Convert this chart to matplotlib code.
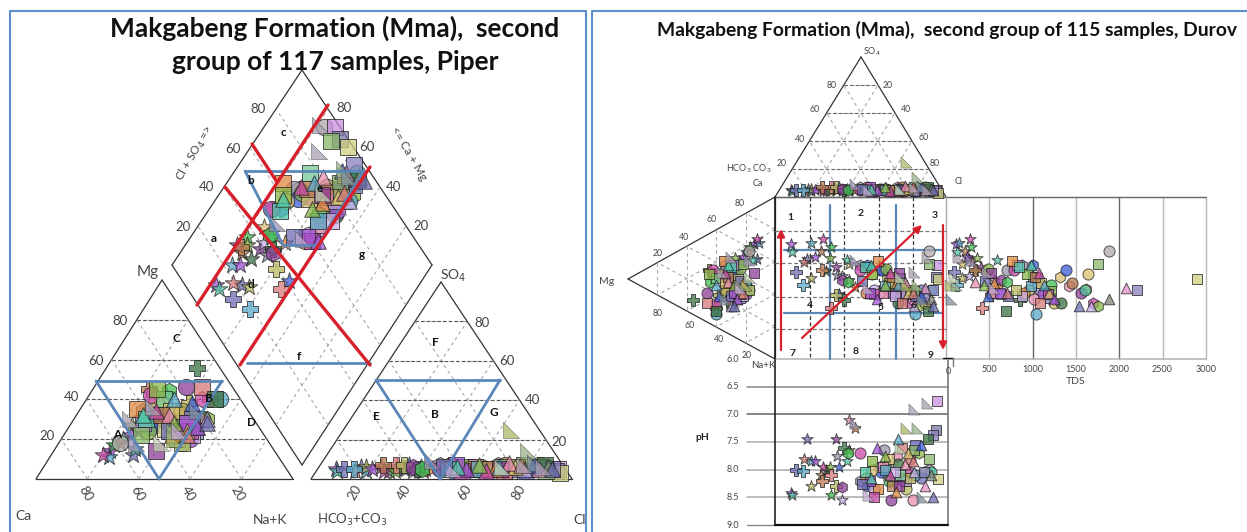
import matplotlib
matplotlib.use("Agg")
import matplotlib.pyplot as plt
import numpy as np

plt.rcParams['font.family'] = ['Lato', 'DejaVu Sans']

# ---- sample data: percent meq cations / anions, TDS (mg/l), pH ----
star_cl  = [7, 8, 16, 19, 15, 18, 24, 28, 33, 30, 34, 34, 37, 41, 41, 44, 26, 30, 21, 39]
star_so4 = [5, 4, 6, 4, 4, 6, 6, 4, 5, 6, 5, 7, 4, 4, 5, 5, 4, 4, 5, 6]
star_nak = [22, 24, 32, 23, 28, 35, 24, 29, 30, 22, 34, 49, 30, 26, 30, 38, 20, 24, 26, 31]
star_mg  = [14, 20, 12, 11, 24, 30, 18, 33, 26, 17, 28, 22, 37, 30, 42, 35, 12, 27, 22, 15]
star_tds = [110, 130, 260, 150, 300, 180, 220, 340, 400, 290, 460, 520, 260, 190, 560, 610, 280, 360, 240, 590]
star_ph  = [8.42, 8.45, 7.45, 7.85, 7.8, 8.3, 8.1, 8.0, 7.45, 8.45, 7.75, 7.95, 8.55, 7.65, 7.1, 7.25, 7.95, 7.95, 7.85, 7.85]

plus_cl  = [10, 14, 29, 32, 24, 38]
plus_so4 = [5, 5, 7, 7, 7, 5]
plus_nak = [32, 41, 48, 41, 22, 35]
plus_mg  = [28, 26, 40, 38, 45, 56]
plus_tds = [90, 130, 420, 520, 330, 850]
plus_ph  = [8.0, 8.03, 8.1, 8.3, 8.2, 7.6]

hex_cl   = [36, 40, 46, 52, 58, 63, 68, 72, 76, 82]
hex_so4  = [6, 5, 7, 4, 6, 5, 7, 4, 6, 5]
hex_nak  = [36, 30, 25, 28, 47, 30, 44, 40, 45, 52]
hex_mg   = [30, 44, 34, 28, 26, 38, 22, 33, 40, 30]
hex_tds  = [640, 700, 880, 1010, 1180, 1320, 1420, 1620, 1700, 1750]
hex_ph   = [8.32, 7.7, 8.2, 8.3, 7.95, 8.1, 7.75, 8.15, 8.05, 7.7]

circ_cl  = [87, 84, 83, 80, 76, 74, 71, 69, 66, 64, 61, 59, 56, 54, 78, 50, 47, 62, 73, 89]
circ_so4 = [6, 7, 5, 4, 6, 5, 7, 6, 4, 5, 5, 6, 4, 6, 5, 7, 5, 6, 4, 5]
circ_nak = [24, 50, 46, 52, 46, 40, 41, 50, 36, 44, 28, 32, 45, 28, 48, 45, 24, 32, 50, 48]
circ_mg  = [18, 30, 22, 40, 26, 34, 24, 30, 46, 20, 34, 26, 24, 38, 30, 28, 42, 24, 20, 18]
circ_tds = [1880, 1250, 1100, 1040, 1180, 960, 1460, 1330, 1560, 1210, 700, 1390, 1090, 1640, 1020, 900, 780, 480, 1120, 1610]
circ_ph  = [8.0, 8.05, 8.15, 8.1, 7.8, 8.35, 8.15, 7.9, 8.55, 8.2, 7.65, 8.05, 8.35, 8.0, 8.55, 8.15, 7.7, 7.95, 8.2, 8.05]

sq_cl    = [92, 92, 94, 90, 88, 84, 80, 78, 74, 70, 68, 64, 60, 58, 56, 54, 52, 50, 48, 62, 72, 76, 66, 86, 70]
sq_so4   = [5, 4, 3, 5, 4, 6, 4, 7, 5, 6, 4, 5, 6, 5, 4, 6, 7, 5, 6, 5, 4, 6, 5, 7, 5]
sq_nak   = [28, 33, 38, 45, 30, 50, 46, 44, 47, 30, 50, 36, 46, 22, 48, 25, 45, 28, 40, 45, 42, 48, 33, 50, 40]
sq_mg    = [28, 32, 25, 25, 22, 24, 30, 28, 25, 40, 22, 34, 26, 35, 24, 45, 28, 30, 24, 20, 46, 18, 32, 40, 14]
sq_tds   = [820, 1010, 2900, 2200, 1760, 1200, 720, 1210, 640, 1050, 880, 1100, 530, 760, 1180, 930, 620, 840, 450, 980, 1090, 810, 1030, 690, 520]
sq_ph    = [6.76, 7.28, 8.17, 7.38, 7.8, 8.05, 7.55, 7.65, 8.2, 8.1, 8.05, 7.8, 7.95, 8.35, 8.5, 7.85, 8.2, 8.05, 8.25, 8.0, 7.6, 8.15, 8.3, 7.45, 8.3]
sq_colors = ['#c890e0', '#7878a8', '#d0d080', '#8880c0', '#88b868', '#8888c8', '#6868c0', '#88b060', '#b8a0d8', '#78c898']

tri_cl   = [88, 85, 82, 79, 75, 72, 68, 65, 61, 57, 53, 90, 69, 77]
tri_so4  = [6, 5, 7, 5, 6, 8, 5, 4, 7, 5, 6, 5, 6, 7]
tri_nak  = [50, 44, 42, 52, 47, 36, 42, 30, 40, 50, 26, 53, 34, 48]
tri_mg   = [26, 24, 38, 30, 24, 32, 22, 34, 28, 26, 32, 28, 40, 22]
tri_tds  = [1880, 2080, 480, 1680, 1190, 330, 560, 1070, 440, 1250, 980, 1540, 1130, 710]
tri_ph   = [8.1, 8.3, 7.55, 8.05, 7.7, 7.9, 8.4, 8.1, 7.75, 7.6, 8.15, 8.5, 7.45, 7.85]
tri_colors = ['#808878', '#e890c8']

rtri_cl  = [64, 76, 42, 82, 86, 78, 52, 70]
rtri_so4 = [25, 14, 9, 8, 6, 7, 5, 6]
rtri_nak = [44, 42, 30, 46, 22, 28, 44, 40]
rtri_mg  = [20, 24, 18, 34, 30, 36, 24, 18]
rtri_tds = [50, 110, 290, 60, 140, 470, 560, 90]
rtri_ph  = [7.25, 7.25, 7.15, 8.5, 6.8, 6.9, 8.45, 7.6]
rtri_colors = ['#a8b868', '#98b088', '#9890b0', '#8090a0', '#a8a0b0', '#a8a0b0', '#c0a8d0', '#c0d0b0']

circ_colors = ['#b0a8a8', '#d8c060']

groups = [
    ('*', 1.12, star_cl, star_so4, star_nak, star_mg, star_tds, star_ph, []),
    ('P', 1.05, plus_cl, plus_so4, plus_nak, plus_mg, plus_tds, plus_ph, []),
    ('h', 1.05, hex_cl, hex_so4, hex_nak, hex_mg, hex_tds, hex_ph, []),
    ('o', 1.05, circ_cl, circ_so4, circ_nak, circ_mg, circ_tds, circ_ph, circ_colors),
    ('s', 1.0, sq_cl, sq_so4, sq_nak, sq_mg, sq_tds, sq_ph, sq_colors),
    ('^', 1.0, tri_cl, tri_so4, tri_nak, tri_mg, tri_tds, tri_ph, tri_colors),
    ('$\u25e3$', 1.0, rtri_cl, rtri_so4, rtri_nak, rtri_mg, rtri_tds, rtri_ph, rtri_colors),
]
palette = ['#a050d8', '#40c050', '#e890b0', '#b8b860', '#9a94ac', '#50c8a8', '#b87850',
           '#e08840', '#6c6cb4', '#3c5cd8', '#c848a8', '#3a7040', '#c8b0e8', '#58a8c8',
           '#8c3c98', '#88b848', '#d87878', '#d8c070']

SO4_LAB = 'SO$_4$'
ticks = [20, 40, 60, 80]

fig = plt.figure(figsize=(12.47, 5.32), dpi=100)
ax = fig.add_axes([0, 0, 1, 1])
ax.set_xlim(0, 1247)
ax.set_ylim(532, 0)
ax.axis('off')

EDGE = '#333333'
GRID = '#a8a8a8'


def seg(p, q, color=EDGE, lw=0.9, ls='-', z=2):
    ax.plot([p[0], q[0]], [p[1], q[1]], color=color, lw=lw, ls=ls, zorder=z, solid_capstyle='round')


def bary(A, B, C, a, b, c):
    return (np.asarray(A) * a + np.asarray(B) * b + np.asarray(C) * c) / 100.0


def tri_frame(A, B, C, lw=0.9):
    seg(A, B, lw=lw); seg(B, C, lw=lw); seg(C, A, lw=lw)
    for t in ticks:
        seg(bary(A, B, C, 100 - t, 0, t), bary(A, B, C, 0, 100 - t, t), GRID, .8, (0, (3, 3)))
        seg(bary(A, B, C, t, 100 - t, 0), bary(A, B, C, t, 0, 100 - t), GRID, .8, (0, (3, 3)))
        seg(bary(A, B, C, 100 - t, t, 0), bary(A, B, C, 0, t, 100 - t), GRID, .8, (0, (3, 3)))


def label(x, y, s, size=9, color='#444444', rot=0, weight='normal', **kw):
    ax.text(x, y, s, fontsize=size, color=color, rotation=rot, ha='center', va='center',
            fontweight=weight, rotation_mode='anchor', zorder=9, **kw)


# ---- Piper geometry ----
CaP, NaP, MgP = (36, 479), (293, 479), (162, 280)
HcP, ClP, SoP = (311, 479), (572, 479), (441, 282)
Dtop, Dleft, Dright, Dbot = np.array([302, 70]), np.array([172, 265]), np.array([432, 265]), np.array([302, 465])

tri_frame(CaP, NaP, MgP)
tri_frame(HcP, ClP, SoP)
for t in ticks:
    seg(bary(CaP, NaP, MgP, 100 - t, 0, t), bary(CaP, NaP, MgP, 0, 100 - t, t), '#555555', .8, (0, (3, 2)))
    seg(bary(HcP, ClP, SoP, 100 - t, 0, t), bary(HcP, ClP, SoP, 0, 100 - t, t), '#555555', .8, (0, (3, 2)))
seg(Dtop, Dleft); seg(Dleft, Dbot); seg(Dbot, Dright); seg(Dright, Dtop)
for t in ticks:
    seg(Dbot + (Dright - Dbot) * t / 100, Dleft + (Dtop - Dleft) * t / 100, GRID, .8, (0, (3, 3)))
    seg(Dbot + (Dleft - Dbot) * t / 100, Dright + (Dtop - Dright) * t / 100, GRID, .8, (0, (3, 3)))

# ---- Durov geometry ----
SQL, SQR, SQT, SQB = 775, 946, 197, 359
TopA, TopB, TopC = (SQL, SQT), (SQR, SQT), (861, 57)
LeftCa, LeftNa, LeftMg = (SQL, SQT), (SQL, SQB), (628, 279)
tri_frame(TopA, TopB, TopC)
tri_frame(LeftCa, LeftNa, LeftMg)
for t in ticks:
    seg(bary(TopA, TopB, TopC, 100 - t, 0, t), bary(TopA, TopB, TopC, 0, 100 - t, t), '#666666', .8, (0, (3, 2)))

PH_T, PH_B, PH_R = 359, 525, 948
for p, c in zip([6.5, 7.0, 7.5, 8.0, 8.5], ['#888888', '#666666', '#aaaaaa', '#aaaaaa', '#aaaaaa']):
    y = PH_T + (p - 6) / 3 * (PH_B - PH_T)
    seg((747, y), (PH_R, y), c, 1.1)
    label(733, y, f'{p:.1f}', 6.5)
label(733, PH_T, '6.0', 6.5)
label(733, PH_B, '9.0', 6.5)
seg((747, PH_B), (SQL, PH_B), '#888888', 1)
seg((SQL, PH_T), (SQL, PH_B), '#222222', 1.2)
seg((PH_R, PH_T), (PH_R, PH_B), '#777777', 1.2)
seg((SQL, PH_B), (PH_R, PH_B), '#111111', 1.6)

TDS_PER_PX = 500 / 43.3
for v in [500, 1000, 1500, 2000, 2500, 3000]:
    x = SQR + v / TDS_PER_PX
    seg((x, SQT), (x, SQB), '#666666' if v in (1000, 2000) else '#b8b8b8', 1)
    label(x, 370, str(v), 6.5)
seg((SQL, SQT), (SQR + 3000 / TDS_PER_PX, SQT), '#666666', 1)
seg((SQL, SQB), (SQR + 3000 / TDS_PER_PX, SQB), '#b8b8b8', 1.2)
seg((SQL, SQT), (SQL, SQB), '#222222', 1.3)
seg((SQR, SQT), (SQR, SQB), '#aaaaaa', 1)
seg((943, 358), (953, 358), '#111111', 1); seg((953, 358), (953, 366), '#777777', 1)
for x in [810, 844, 879, 913]:
    seg((x, SQT), (x, SQB), '#333333', .9, (0, (3, 2)))
for y in [231, 263, 297, 329]:
    seg((SQL, y), (SQR, y), '#777777', .9, (0, (3, 2)))

# ---- samples ----
idx = 0
for marker, scale, cl, so4, nak, mg, tds, ph, first_cols in groups:
    for i in range(len(cl)):
        col = first_cols[i] if i < len(first_cols) else palette[idx % len(palette)]
        idx += 3 if idx % 2 else 5
        Ca = 100 - nak[i] - mg[i]
        Hc = 100 - cl[i] - so4[i]
        kw = dict(marker=marker, color=col, alpha=.75, edgecolors='#222222', linewidths=.7, zorder=4)
        sP = 125 * scale ** 2
        sD = 58 * scale ** 2
        if marker == '$\u25e3$':
            kw['linewidths'] = .3
            sP *= 1.1; sD *= 1.1
        # Piper
        p = bary(CaP, NaP, MgP, Ca, nak[i], mg[i])
        ax.scatter(p[0], p[1], s=sP, **kw)
        p = bary(HcP, ClP, SoP, Hc, cl[i], so4[i])
        ax.scatter(p[0], p[1], s=sP, **kw)
        p = Dbot + (Dright - Dbot) * (cl[i] + so4[i]) / 100 + (Dleft - Dbot) * (100 - nak[i]) / 100
        ax.scatter(p[0], p[1], s=sP, **kw)
        # Durov
        pT = bary(TopA, TopB, TopC, Hc, cl[i], so4[i])
        ax.scatter(pT[0], pT[1], s=sD, **kw)
        pL = bary(LeftCa, LeftNa, LeftMg, Ca, nak[i], mg[i])
        ax.scatter(pL[0], pL[1], s=sD, **kw)
        sx = SQL + (SQR - SQL) * (cl[i] + so4[i] / 2) / 100
        ax.scatter(sx, pL[1], s=sD, **kw)
        ax.scatter(SQR + tds[i] / TDS_PER_PX, pL[1], s=sD, **kw)
        ax.scatter(sx, PH_T + (ph[i] - 6) / 3 * (PH_B - PH_T), s=sD, **kw)

# ---- overlays, Piper ----
RED = '#d8202c'
BLUE = '#5a86b8'
for a, b in [((328, 105), (197, 305)), ((370, 167), (240, 365)), ((252, 144), (277, 182)), ((225, 187), (370, 365))]:
    seg(a, b, RED, 2.4, z=6)
for a, b in [((245, 171), (364, 171)), ((245, 171), (283, 245)), ((364, 171), (318, 245)), ((283, 245), (318, 245)),
             ((247, 363), (370, 363))]:
    seg(a, b, BLUE, 2, z=5)
for a, b in [((96, 381), (222, 381)), ((96, 381), (159, 479)), ((222, 381), (159, 479)),
             ((376, 380), (500, 380)), ((376, 380), (440, 479)), ((500, 380), (440, 479))]:
    seg(a, b, BLUE, 2, z=5)

# ---- overlays, Durov ----
for a, b in [((830, 205), (830, 359)), ((896, 205), (896, 359)), ((784, 250), (943, 250)), ((784, 313), (943, 313))]:
    seg(a, b, BLUE, 1.6, z=3)
for tail, head in [((781, 350), (781, 229)), ((943, 225), (943, 350)), ((802, 338), (922, 225))]:
    ax.annotate('', xy=head, xytext=tail, zorder=7,
                arrowprops=dict(arrowstyle='-|>', color=RED, lw=1.6, mutation_scale=11, shrinkA=0, shrinkB=0))

# ---- titles ----
label(335, 28, 'Makgabeng Formation (Mma),  second', 19, '#111111', weight='bold')
label(335, 62, 'group of 117 samples, Piper', 19, '#111111', weight='bold')
label(947, 30, 'Makgabeng Formation (Mma),  second group of 115 samples, Durov', 13.9, '#111111', weight='bold')

# ---- Piper text ----
for x, y, s in [(258, 109, '80'), (233, 149, '60'), (207, 187, '40'), (183, 227, '20'),
                (344, 108, '80'), (367, 147, '60'), (394, 187, '40'), (421, 226, '20'),
                (120, 321, '80'), (96, 361, '60'), (72, 397, '40'), (47, 436, '20'),
                (482, 323, '80'), (507, 361, '60'), (533, 400, '40'), (559, 442, '20')]:
    label(x, y, s, 9.5)
for x, s in zip([86, 138, 188, 238], ['80', '60', '40', '20']):
    label(x, 494, s, 9.5, rot=-60)
for x, s in zip([355, 404, 465, 519], ['20', '40', '60', '80']):
    label(x, 492, s, 9.5, rot=60)
label(195, 153, 'Cl + SO$_4$ =>', 8.5, rot=60)
label(409, 153, '<= Ca + Mg', 8.5, rot=-60)
label(148, 272, 'Mg', 11)
label(453, 276, SO4_LAB, 10)
label(23, 516, 'Ca', 10)
label(270, 520, 'Na+K', 10)
label(352, 520, 'HCO$_3$+CO$_3$', 9.5)
label(580, 520, 'Cl', 10)
for x, y, s in [(214, 238, 'a'), (251, 181, 'b'), (283, 132, 'c'), (251, 285, 'd'), (320, 188, 'e'), (299, 356, 'f'),
                (362, 255, 'g'), (176, 338, 'C'), (209, 398, 'B'), (117, 435, 'A'), (251, 423, 'D'), (376, 417, 'E'),
                (435, 343, 'F'), (435, 414, 'B'), (494, 413, 'G')]:
    label(x, y, s, 8.5, '#111111', weight='bold')

# ---- Durov text ----
for x, y, s in [(832, 85, '80'), (888, 85, '20'), (815, 110, '60'), (906, 109, '40'), (800, 140, '40'), (924, 138, '60'),
                (782, 164, '20'), (935, 164, '80'), (740, 203, '80'), (712, 219, '60'), (684, 237, '40'), (658, 254, '20'),
                (658, 313, '80'), (690, 325, '60'), (719, 339, '40'), (747, 355, '20')]:
    label(x, y, s, 6.3)
label(872, 52, 'SO$_4$', 6.5)
label(749, 169, 'HCO$_3$ CO$_3$', 6.5)
label(758, 183, 'Ca', 6.5)
label(959, 182, 'Cl', 6.5)
label(763, 366, 'Na+K', 7)
label(607, 281, 'Mg', 7.5)
label(702, 438, 'pH', 7.5, '#222222', weight='bold')
label(1076, 381, 'TDS', 7.5)
label(948, 371, '0', 6.5)
for x, y, s in [(790, 218, '1'), (861, 213, '2'), (935, 215, '3'), (810, 306, '4'), (881, 308, '5'), (914, 306, '6'),
                (793, 354, '7'), (856, 352, '8'), (931, 355, '9')]:
    label(x, y, s, 7.5, '#222222', weight='bold')

# ---- panel borders ----
for x0, x1 in [(10, 586), (592, 1252)]:
    ax.plot([x0, x0, x1, x1], [540, 11, 11, 540], color='#5b8fd0', lw=1.5, zorder=10, clip_on=True)

fig.savefig('out.png', dpi=100)
